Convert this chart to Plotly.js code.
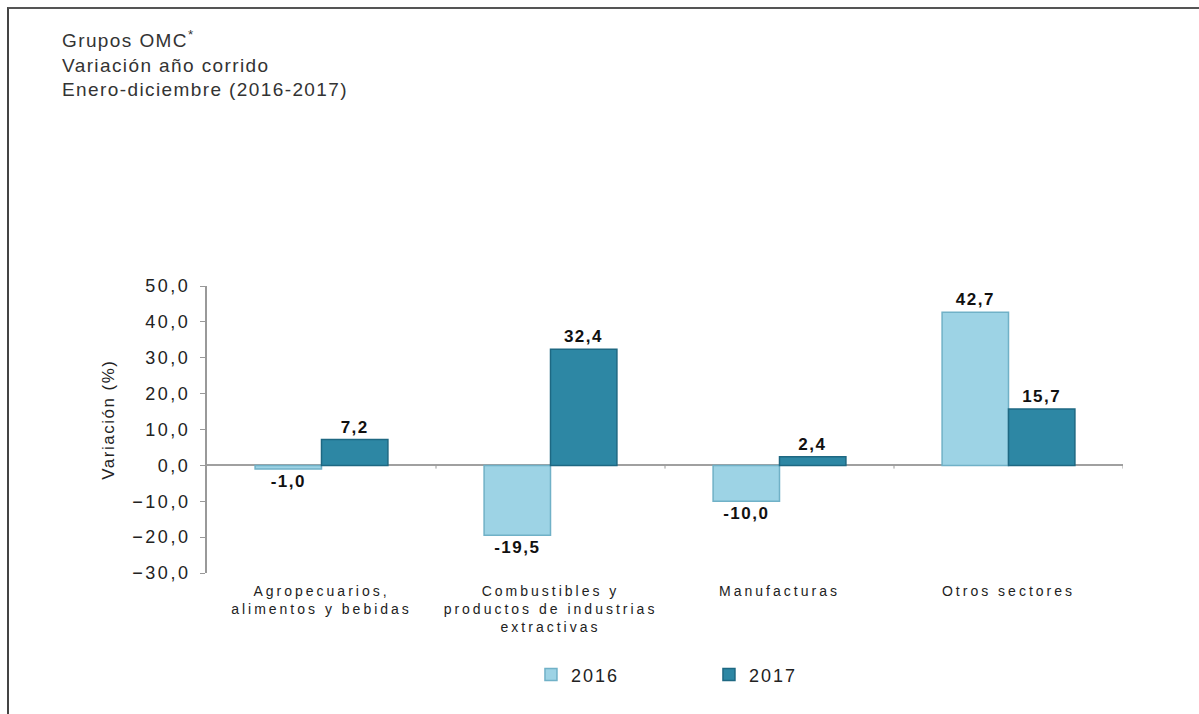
<!DOCTYPE html>
<html>
<head>
<meta charset="utf-8">
<script src="https://cdn.plot.ly/plotly-3.0.1.min.js"></script>
<style>
  html, body { margin: 0; padding: 0; background: #fff; }
  #wrap { position: relative; width: 1199px; height: 714px; overflow: hidden; }
  #frame { position: absolute; left: 7px; top: 7px; width: 1200px; height: 720px;
           border-left: 2px solid #444; border-top: 2px solid #555; pointer-events: none; z-index: 5; }
  #chart { position: absolute; left: 0; top: 0; width: 1199px; height: 714px; }
  #chart .gtitle { letter-spacing: 1.4px; }
  #chart .ytick text { letter-spacing: 2.5px; }
  #chart .xtick text { letter-spacing: 3px; }
  #chart .bartext { letter-spacing: 1.5px; }
  #chart .legendtext { letter-spacing: 2px; }
  #chart .annotation-text { letter-spacing: 1.5px; }
</style>
</head>
<body>
<div id="wrap">
  <div id="chart"></div>
  <div id="frame"></div>
</div>
<script>
const categories = [
  "Agropecuarios,<br>alimentos y bebidas",
  "Combustibles y<br>productos de industrias<br>extractivas",
  "Manufacturas",
  "Otros sectores"
];
const values2016 = [-1.0, -19.5, -10.0, 42.7];
const values2017 = [7.2, 32.4, 2.4, 15.7];
const seriesNames = ["2016", "2017"];
const yTicks = [-30, -20, -10, 0, 10, 20, 30, 40, 50];
const yTitle = "Variación (%)";

const FONT = "Liberation Sans, Arial, sans-serif";
const labelFont = { family: FONT, size: 17, color: "#111", weight: "bold" };

const traces = [
  {
    type: "bar", name: seriesNames[0], x: categories, y: values2016,
    marker: { color: "#9dd3e5", line: { color: "#70b1c7", width: 1.5 } },
    text: values2016, texttemplate: "%{y:.1f}", textposition: "outside",
    textfont: labelFont, cliponaxis: false
  },
  {
    type: "bar", name: seriesNames[1], x: categories, y: values2017,
    marker: { color: "#2d87a4", line: { color: "#1e6882", width: 1.5 } },
    text: values2017, texttemplate: "%{y:.1f}", textposition: "outside",
    textfont: labelFont, cliponaxis: false
  }
];

const boundaryTicks = [0.5, 1.5, 2.5, 3.5].map(b => ({
  type: "line", xref: "x", yref: "y", x0: b, x1: b, y0: 0, y1: -0.9,
  line: { color: "#999", width: 1 }
}));

const layout = {
  width: 1199, height: 714,
  paper_bgcolor: "#fff", plot_bgcolor: "#fff",
  separators: ",.",
  margin: { l: 207, r: 76, t: 286, b: 141 },
  title: {
    text: "Grupos OMC<sup>*</sup><br>Variación año corrido<br>Enero-diciembre (2016-2017)",
    x: 62 / 1199, xref: "container", xanchor: "left",
    y: 1 - 47 / 714, yref: "container", yanchor: "top",
    font: { family: FONT, size: 19, color: "#333" }
  },
  barmode: "group", bargap: 0.42, bargroupgap: 0,
  showlegend: true,
  legend: {
    orientation: "h", x: 0.548, xanchor: "center", y: -0.355, yanchor: "middle",
    font: { family: FONT, size: 18, color: "#222" },
    entrywidth: 133, entrywidthmode: "pixels", itemwidth: 30
  },
  xaxis: {
    type: "category", showline: false, showgrid: false, zeroline: false,
    ticks: "", ticklabelstandoff: 8,
    tickfont: { family: FONT, size: 14, color: "#222" },
    range: [-0.5, 3.5], fixedrange: true
  },
  yaxis: {
    range: [-30, 50], tickvals: yTicks, tickformat: ".1f",
    showline: true, linecolor: "#999", linewidth: 2,
    ticks: "outside", ticklen: 5, tickcolor: "#999", tickwidth: 1,
    ticklabelstandoff: 6,
    showgrid: false, zeroline: true, zerolinecolor: "#a0a0a0", zerolinewidth: 2,
    tickfont: { family: FONT, size: 18, color: "#222" },
    automargin: false, fixedrange: true
  },
  annotations: [{
    text: yTitle, textangle: -90, showarrow: false,
    xref: "paper", yref: "paper", x: (108 - 207) / 916, y: (573 - 420) / 287,
    xanchor: "center", yanchor: "middle",
    font: { family: FONT, size: 17, color: "#222" }
  }],
  shapes: boundaryTicks
};

Plotly.newPlot("chart", traces, layout, { displayModeBar: false, staticPlot: true });
</script>
</body>
</html>
